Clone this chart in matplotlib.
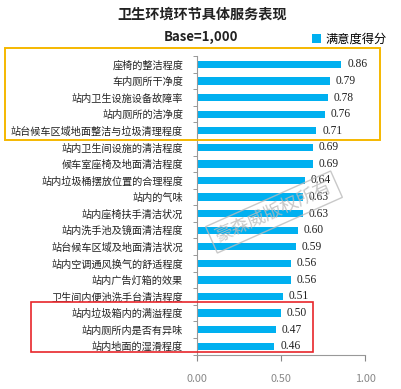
import matplotlib
matplotlib.use("Agg")
import matplotlib.pyplot as plt
from matplotlib.patches import Rectangle

plt.rcParams['font.family'] = ['Noto Sans CJK SC', 'DejaVu Sans']

categories = [
    "座椅的整洁程度", "车内厕所干净度", "站内卫生设施设备故障率", "站内厕所的洁净度",
    "站台候车区域地面整洁与垃圾清理程度", "站内卫生间设施的清洁程度", "候车室座椅及地面清洁程度",
    "站内垃圾桶摆放位置的合理程度", "站内的气味", "站内座椅扶手清洁状况", "站内洗手池及镜面清洁程度",
    "站台候车区域及地面清洁状况", "站内空调通风换气的舒适程度", "站内广告灯箱的效果",
    "卫生间内便池洗手台清洁程度", "站内垃圾箱内的满溢程度", "站内厕所内是否有异味", "站内地面的湿滑程度",
]
values = [0.86, 0.79, 0.78, 0.76, 0.71, 0.69, 0.69, 0.64, 0.63, 0.63,
          0.60, 0.59, 0.56, 0.56, 0.51, 0.50, 0.47, 0.46]
x_ticks = [0.0, 0.5, 1.0]
x_tick_labels = ["0.00", "0.50", "1.00"]
series_name = "满意度得分"

W, H = 402, 389
fig = plt.figure(figsize=(W / 100, H / 100), dpi=100)

def fx(px):
    return px / W

def fy(py):
    return 1 - py / H

ax = fig.add_axes([fx(197), fy(354.5), fx(365) - fx(197), fy(56.2) - fy(354.5)])
n = len(categories)
ypos = list(range(n))
ax.barh(ypos, values, height=0.44, color="#00B0F0", label=series_name)
ax.set_ylim(n - 0.5, -0.5)
ax.set_xlim(0, 1)
ax.set_yticks(ypos)
ax.set_yticklabels(categories, fontsize=7.3, color="#222222")
ax.set_yticks([i - 0.5 for i in range(n + 1)], minor=True)
ax.tick_params(axis='y', which='major', length=0, pad=10)
ax.tick_params(axis='y', which='minor', length=3, color="#888888", direction='out')
ax.set_xticks(x_ticks)
ax.set_xticklabels(x_tick_labels, fontsize=7.8, color="#888888")
ax.tick_params(axis='x', length=4, color="#888888", pad=10)
for s in ['top', 'right']:
    ax.spines[s].set_visible(False)
for s in ['left', 'bottom']:
    ax.spines[s].set_color("#999999")
    ax.spines[s].set_linewidth(0.8)

for i, v in enumerate(values):
    ax.text(v + 0.035, i, f"{v:.2f}", va='center', ha='left', fontsize=8.3,
            family=['Liberation Serif'], color="#222222")

fig.text(fx(202), fy(15), "卫生环境环节具体服务表现", ha='center', va='center',
         fontsize=10.2, fontweight='bold', color="#222222")
fig.text(fx(201), fy(37), "Base=1,000", ha='center', va='center',
         fontsize=9.5, fontweight='bold', color="#222222")

leg = ax.legend(loc='center left', bbox_to_anchor=(fx(312), fy(39)),
                bbox_transform=fig.transFigure, frameon=False, fontsize=8.8,
                handlelength=0.7, handleheight=0.7, handletextpad=0.4,
                borderaxespad=0, borderpad=0)

# highlight boxes
fig.patches.append(Rectangle((fx(5), fy(140)), fx(380) - fx(5), fy(48) - fy(140),
                             transform=fig.transFigure, fill=False,
                             edgecolor="#F5B800", linewidth=1.4))
fig.patches.append(Rectangle((fx(31), fy(352)), fx(313) - fx(31), fy(301.5) - fy(352),
                             transform=fig.transFigure, fill=False,
                             edgecolor="#E8262B", linewidth=1.2))

# watermark
fig.text(fx(274), fy(212), "豪森威版权所有", ha='center', va='center', rotation=24,
         fontsize=13, color="#BBBBBB", alpha=0.8,
         bbox=dict(boxstyle='square,pad=0.3', fill=False, edgecolor="#BBBBBB",
                   linewidth=1.0, alpha=0.8))

fig.savefig("out.png", dpi=100, facecolor="white")
